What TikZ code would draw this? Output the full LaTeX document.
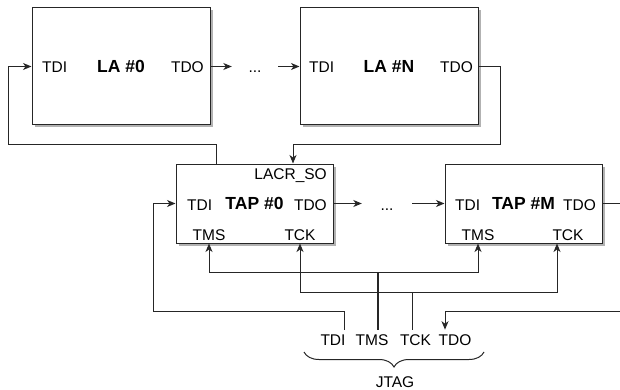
\documentclass[tikz,border=0pt]{standalone}
\usepackage{fontspec}
\setmainfont{Liberation Sans}
\usetikzlibrary{arrows.meta,shadows,decorations.pathreplacing}

\begin{document}
\begin{tikzpicture}[
    x=1pt, y=-1pt,
    every node/.style={font=\fontsize{15.5}{18}\selectfont, inner sep=0pt},
    wire/.style={draw=black!85, line width=1pt},
    arr/.style={wire, -{Stealth[length=8.5pt, width=7pt, inset=2.5pt]}},
    block/.style={draw=black!85, line width=1pt, fill=white,
      font=\fontsize{17.5}{20}\selectfont\bfseries,
      drop shadow={shadow xshift=2.5pt, shadow yshift=-2.5pt, fill=black, opacity=0.3}},
    labox/.style={block, minimum width=178pt, minimum height=117pt},
    tapbox/.style={block, minimum width=157pt, minimum height=79pt},
    pinw/.style={anchor=base west},
    pine/.style={anchor=base east},
    pinc/.style={anchor=base},
    jpin/.style={anchor=base, outer ysep=5pt}
  ]
  \useasboundingbox (0,0) rectangle (620,390);

  % Logic analyzers
  \node[labox] (la0) at (121,66.5) {LA \#0};
  \node[pinw] (la0-tdi) at (42,72.5) {TDI};
  \node[pine] (la0-tdo) at (204,72.5) {TDO};
  \node[pinc, minimum width=46pt] (dots1) at (255,72.5) {...};
  \node[labox] (laN) at (389,66.5) {LA \#N};
  \node[pinw] (laN-tdi) at (309,72.5) {TDI};
  \node[pine] (laN-tdo) at (473,72.5) {TDO};

  % TAP controllers
  \node[tapbox] (tap0) at (254.5,203.5) {TAP \#0};
  \node[pine] (tap0-so) at (327,179) {LACR\_SO};
  \node[pinw] (tap0-tdi) at (187,210) {TDI};
  \node[pine] (tap0-tdo) at (327,210) {TDO};
  \node[pinc] (tap0-tms) at (209,240) {TMS};
  \node[pinc] (tap0-tck) at (300,240) {TCK};
  \node[pinc, minimum width=50pt] (dots2) at (387,210) {...};
  \node[tapbox] (tapM) at (523.5,203.5) {TAP \#M};
  \node[pinw] (tapM-tdi) at (455,210) {TDI};
  \node[pine] (tapM-tdo) at (596,210) {TDO};
  \node[pinc] (tapM-tms) at (478,240) {TMS};
  \node[pinc] (tapM-tck) at (568,240) {TCK};

  % JTAG port
  \node[jpin] (j-tdi) at (333,345.5) {TDI};
  \node[jpin] (j-tms) at (372,345.5) {TMS};
  \node[jpin] (j-tck) at (415.5,345.5) {TCK};
  \node[jpin] (j-tdo) at (455,345.5) {TDO};
  \node[pinc] (jtag) at (395,387.5) {JTAG};
  \draw[wire, decorate, decoration={brace, mirror, amplitude=15pt}]
    (304,352) -- (484,352);

  % LA chain
  \draw[arr] (la0.east) -- (la0.east -| dots1.west);
  \draw[arr] (dots1.east |- laN.west) -- (laN.west);
  \draw[arr] (laN.east) -| (500,145) -| ([xshift=38.5pt]tap0.north);
  \draw[arr] ([xshift=-38.5pt]tap0.north) |- (8,145) |- (la0.west);

  % TAP chain
  \draw[arr] (tap0.east) -- (tap0.east -| dots2.west);
  \draw[arr] (dots2.east |- tapM.west) -- (tapM.west);

  % JTAG signals
  \draw[arr] ([xshift=11pt]j-tdi.north) |- (153,311) |- (tap0.west);
  \draw[arr] (tapM.east) -| (623,311) -| ([xshift=-10pt]j-tdo.north);
  \draw[wire, line width=1.5pt] ([xshift=6pt]j-tms.north) -- (378,272) coordinate (tmsbus);
  \draw[arr] (tmsbus) -| ([xshift=-45.5pt]tap0.south);
  \draw[arr] (tmsbus) -| ([xshift=-45.5pt]tapM.south);
  \draw[wire] ([xshift=-3.5pt]j-tck.north) -- (412,292) coordinate (tckbus);
  \draw[arr] (tckbus) -| ([xshift=45.5pt]tap0.south);
  \draw[arr] (tckbus) -| ([xshift=33.5pt]tapM.south);
\end{tikzpicture}
\end{document}
